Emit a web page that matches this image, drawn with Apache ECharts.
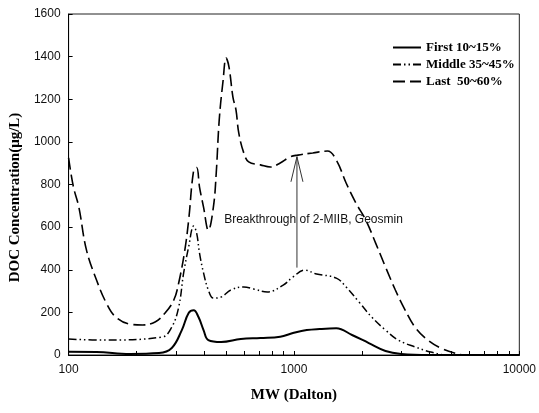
<!DOCTYPE html>
<html>
<head>
<meta charset="utf-8">
<script src="https://cdn.jsdelivr.net/npm/echarts@6/dist/echarts.min.js"></script>
<style>
  html, body { margin: 0; padding: 0; background: #fff; }
  #chart { width: 539px; height: 413px; }
</style>
</head>
<body>
<div id="chart"></div>
<script>
// Molecular weight distribution of DOC in three fractions
const firstMW = [100, 133, 187, 252, 287, 318, 341, 359, 377, 397, 417, 475, 581, 710, 869, 990, 1140, 1300, 1541, 1810, 2148, 2548, 2992, 4000, 10000];
const firstDOC = [15, 14, 5, 9, 33, 117, 197, 210, 178, 117, 70, 61, 75, 80, 86, 103, 117, 122, 125, 94, 56, 19, 5, 0, 0];

const middleMW = [100, 143, 260, 287, 308, 324, 341, 359, 370, 381, 397, 417, 439, 475, 525, 599, 662, 762, 896, 990, 1117, 1260, 1541, 1704, 1942, 2213, 2548, 2904, 3444, 4046, 4800, 10000];
const middleDOC = [75, 70, 84, 131, 225, 385, 507, 605, 572, 478, 385, 305, 267, 272, 305, 319, 310, 296, 328, 366, 398, 380, 361, 319, 249, 178, 117, 70, 38, 14, 0, 0];

const lastMW = [100, 105, 111, 120, 133, 147, 162, 187, 213, 242, 268, 293, 308, 328, 341, 359, 370, 381, 397, 417, 439, 452, 466, 485, 500, 515, 536, 553, 569, 599, 630, 710, 786, 869, 960, 1041, 1211, 1408, 1541, 1704, 1884, 2084, 2304, 2548, 2818, 3114, 3444, 3926, 4474, 5150, 5870, 10000];
const lastDOC = [925, 790, 695, 493, 352, 244, 178, 145, 141, 155, 197, 258, 338, 493, 633, 868, 880, 788, 694, 586, 694, 854, 1103, 1290, 1393, 1351, 1210, 1150, 1042, 948, 906, 892, 882, 901, 929, 938, 948, 957, 915, 807, 713, 633, 525, 413, 305, 211, 131, 70, 33, 9, 0, 0];

const seriesNames = ['First 10~15%', 'Middle 35~45%', 'Last  50~60%'];

// Axis settings
const xTickValues = [100, 200, 300, 400, 500, 600, 700, 800, 900, 1000, 2000, 3000, 4000, 5000, 6000, 7000, 8000, 9000, 10000];
const xLabelValues = [100, 1000, 10000];

// Annotation: arrow rising from the middle curve to the last curve
const arrowMW = 1031;
const arrowFrom = 410;
const arrowTo = 930;
const noteText = 'Breakthrough of 2-MIIB, Geosmin';
const noteMW = 490;
const noteDOC = 633;

const pairs = (xs, ys) => xs.map((x, i) => [x, ys[i]]);

const chart = echarts.init(document.getElementById('chart'), null, { renderer: 'canvas' });

const serifBold = { fontFamily: 'Liberation Serif', fontWeight: 'bold', color: '#000' };
const sansLabel = { fontFamily: 'Liberation Sans', fontSize: 12, color: '#111', formatter: v => String(v) };

chart.setOption({
  animation: false,
  backgroundColor: '#fff',
  textStyle: { fontFamily: 'Liberation Sans' },
  grid: {
    left: 65, right: 16, top: 14, bottom: 58,
    show: true, borderColor: '#222', borderWidth: 1, backgroundColor: 'transparent'
  },
  legend: {
    orient: 'vertical',
    left: 387, top: 36,
    itemWidth: 28, itemHeight: 12, itemGap: 4,
    itemStyle: { opacity: 0, borderWidth: 0 },
    textStyle: Object.assign({ fontSize: 13 }, serifBold),
    data: seriesNames
  },
  xAxis: {
    type: 'log', logBase: 10, min: 100, max: 10000,
    name: 'MW (Dalton)', nameLocation: 'middle', nameGap: 33,
    nameTextStyle: Object.assign({ fontSize: 15 }, serifBold),
    axisLine: { lineStyle: { color: '#000' } },
    axisTick: { inside: true, length: 4, lineStyle: { color: '#000' }, customValues: xTickValues },
    axisLabel: Object.assign({ customValues: xLabelValues, margin: 9 }, sansLabel),
    splitLine: { show: false }, minorTick: { show: false }
  },
  yAxis: {
    type: 'value', min: 0, max: 1600, interval: 200,
    name: 'DOC Concentration(\u03bcg/L)', nameLocation: 'middle', nameGap: 34,
    nameTextStyle: Object.assign({ fontSize: 15, padding: [0, 26, 0, 0] }, serifBold),
    axisLine: { show: true, lineStyle: { color: '#000' } },
    axisTick: { show: true, inside: true, length: 4, lineStyle: { color: '#000' } },
    axisLabel: Object.assign({ margin: 8 }, sansLabel),
    splitLine: { show: false }
  },
  series: [
    {
      name: seriesNames[0], type: 'line', data: pairs(firstMW, firstDOC),
      showSymbol: false, symbol: 'none', smooth: 0.4,
      lineStyle: { color: '#000', width: 2, type: 'solid' }, itemStyle: { color: '#000' }
    },
    {
      name: seriesNames[1], type: 'line', data: pairs(middleMW, middleDOC),
      showSymbol: false, symbol: 'none', smooth: 0.4,
      lineStyle: { color: '#000', width: 1.5, type: [8, 3, 1.5, 3, 1.5, 3] }, itemStyle: { color: '#000' }
    },
    {
      name: seriesNames[2], type: 'line', data: pairs(lastMW, lastDOC),
      showSymbol: false, symbol: 'none', smooth: 0.4,
      lineStyle: { color: '#000', width: 1.6, type: [12, 5] }, itemStyle: { color: '#000' }
    },
    {
      // arrow and its caption
      type: 'custom', silent: true, z: 5,
      data: [[arrowMW, arrowFrom, arrowTo, noteMW, noteDOC]],
      renderItem: function (params, api) {
        const base = api.coord([api.value(0), api.value(1)]);
        const tip = api.coord([api.value(0), api.value(2)]);
        const note = api.coord([api.value(3), api.value(4)]);
        const stroke = { stroke: '#333', lineWidth: 1, fill: null };
        return {
          type: 'group',
          children: [
            { type: 'line', shape: { x1: base[0], y1: base[1], x2: tip[0], y2: tip[1] }, style: stroke },
            { type: 'polyline', shape: { points: [[tip[0] - 6, tip[1] + 25], [tip[0], tip[1]], [tip[0] + 6, tip[1] + 25]] }, style: stroke },
            { type: 'text', x: note[0], y: note[1], style: { text: noteText, fontFamily: 'Liberation Sans', fontSize: 12, fill: '#111', align: 'left', verticalAlign: 'middle' } }
          ]
        };
      }
    }
  ]
});
</script>
</body>
</html>
